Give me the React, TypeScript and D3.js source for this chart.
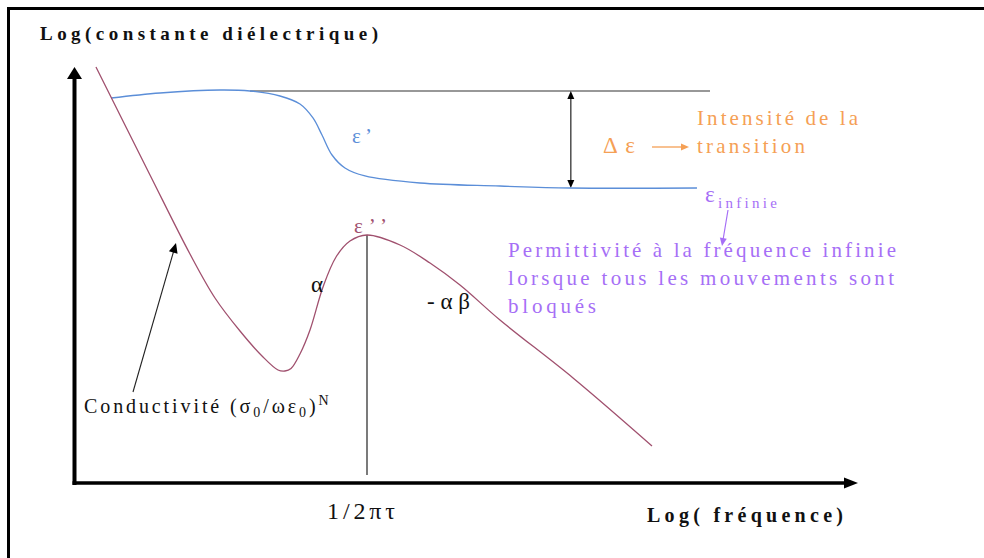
import * as d3 from 'd3';

// x: log(frequency), y: log(dielectric constant), arbitrary units
const epsPrime: [number, number][] = [
  [0.485, 9.236], [1.11, 9.356], [1.875, 9.427], [2.258, 9.403], [2.64, 9.284],
  [2.895, 9.093], [3.061, 8.759], [3.176, 8.353], [3.304, 7.876], [3.469, 7.566],
  [3.724, 7.375], [4.426, 7.208], [5.446, 7.136], [6.339, 7.088], [7.959, 7.088],
];

const epsSecond: [number, number][] = [
  [0.293, 9.976], [0.982, 7.399], [1.492, 5.513], [1.811, 4.463], [2.13, 3.675],
  [2.411, 3.079], [2.615, 2.745], [2.704, 2.721], [2.781, 2.78], [2.895, 3.126],
  [3.023, 3.699], [3.189, 4.726], [3.355, 5.442], [3.533, 5.823], [3.75, 5.967],
  [4.171, 5.728], [4.554, 5.298], [4.936, 4.773], [5.446, 3.938], [6.378, 2.554],
  [7.385, 0.931],
];

const staticLevel = { x0: 2.258, x1: 8.125, y: 9.403 };
const infiniteLevel = 7.088;
const deltaX = 6.35;
const peakX = 3.75;
const peakY = 5.967;

const width = 984;
const height = 558;

const mauve = '#a0506e';
const blue = '#5b8ed8';
const lilac = '#a66ff6';
const orange = '#f5a055';
const ink = '#111';
const serif = '"Liberation Serif", "DejaVu Serif", serif';

function arrowHead(x1: number, y1: number, x2: number, y2: number, len: number, half: number) {
  const a = Math.atan2(y2 - y1, x2 - x1);
  const bx = x2 - len * Math.cos(a);
  const by = y2 - len * Math.sin(a);
  const nx = -Math.sin(a) * half;
  const ny = Math.cos(a) * half;
  return `M${x2},${y2}L${bx + nx},${by + ny}L${bx - nx},${by - ny}Z`;
}

export default function App() {
  const x = d3.scaleLinear().domain([0, 10]).range([73, 857]);
  const y = d3.scaleLinear().domain([0, 10]).range([485, 66]);

  const line = d3
    .line<[number, number]>()
    .x((d) => x(d[0]))
    .y((d) => y(d[1]))
    .curve(d3.curveCatmullRom.alpha(0.5));

  const axisX = 74.5;
  const axisY = 483;

  return (
    <svg
      width={width}
      height={height}
      style={{ position: 'absolute', left: 0, top: 0, background: '#fff' }}
      fontFamily={serif}
    >
      {/* frame */}
      <path d="M8.5,562V8.5H990" fill="none" stroke="#000" strokeWidth={3} />

      {/* axes */}
      <line x1={axisX} y1={axisY + 2} x2={axisX} y2={78} stroke="#000" strokeWidth={4} />
      <path d={arrowHead(axisX, 200, axisX, 67, 12, 7.5)} fill="#000" />
      <line x1={axisX - 2} y1={axisY} x2={845} y2={axisY} stroke="#000" strokeWidth={3.5} />
      <path d={arrowHead(700, axisY, 858, axisY, 14, 5.5)} fill="#000" />

      {/* static level and delta arrow */}
      <line
        x1={x(staticLevel.x0)}
        y1={y(staticLevel.y)}
        x2={x(staticLevel.x1)}
        y2={y(staticLevel.y)}
        stroke="#333"
        strokeWidth={1.2}
      />
      <line
        x1={x(deltaX)}
        y1={y(staticLevel.y) + 6}
        x2={x(deltaX)}
        y2={y(infiniteLevel) - 6}
        stroke="#222"
        strokeWidth={1.2}
      />
      <path d={arrowHead(x(deltaX), 150, x(deltaX), y(staticLevel.y), 8, 3.5)} fill="#000" />
      <path d={arrowHead(x(deltaX), 120, x(deltaX), y(infiniteLevel), 8, 3.5)} fill="#000" />

      {/* peak marker */}
      <line x1={x(peakX)} y1={y(peakY)} x2={x(peakX)} y2={475} stroke="#222" strokeWidth={1.2} />

      {/* curves */}
      <path d={line(epsPrime) ?? ''} fill="none" stroke={blue} strokeWidth={1.3} />
      <path d={line(epsSecond) ?? ''} fill="none" stroke={mauve} strokeWidth={1.3} />

      {/* conductivity pointer */}
      <line x1={133} y1={392} x2={174} y2={250} stroke="#222" strokeWidth={1.1} />
      <path d={arrowHead(133, 392, 176, 243, 10, 4.5)} fill="#000" />

      {/* infinite permittivity pointer */}
      <line x1={728} y1={210} x2={723} y2={240} stroke={lilac} strokeWidth={1.2} />
      <path d={arrowHead(728, 210, 722, 246, 8, 3.5)} fill={lilac} />

      {/* orange arrow */}
      <line x1={652} y1={147} x2={682} y2={147} stroke={orange} strokeWidth={1.3} />
      <path d={arrowHead(652, 147, 689, 147, 8, 3.5)} fill={orange} />

      {/* titles */}
      <text x={40} y={40} fontSize={19} fontWeight="bold" fill={ink} textLength={338} lengthAdjust="spacing">
        Log(constante diélectrique)
      </text>
      <text x={647} y={522} fontSize={20} fontWeight="bold" fill={ink} textLength={196} lengthAdjust="spacing">
        Log( fréquence)
      </text>
      <text x={327} y={519} fontSize={24} fill={ink} textLength={68} lengthAdjust="spacing">
        1/2πτ
      </text>

      {/* curve labels */}
      <text x={352} y={143} fontSize={21} fill={blue} textLength={20} lengthAdjust="spacing">
        ε’
      </text>
      <text x={354} y={233} fontSize={21} fill={mauve} textLength={33} lengthAdjust="spacing">
        ε’’
      </text>
      <text x={311} y={292} fontSize={23} fill={ink}>
        α
      </text>
      <text x={427} y={309} fontSize={23} fill={ink} textLength={43} lengthAdjust="spacing">
        -αβ
      </text>

      {/* delta epsilon annotation */}
      <text x={603} y={153} fontSize={23} fill={orange} textLength={32} lengthAdjust="spacing">
        Δε
      </text>
      <text x={697} y={125} fontSize={21} fill={orange} textLength={161} lengthAdjust="spacing">
        Intensité de la
      </text>
      <text x={697} y={153} fontSize={21} fill={orange} textLength={108} lengthAdjust="spacing">
        transition
      </text>

      {/* epsilon infinite */}
      <text x={705} y={202} fontSize={23} fill={lilac}>
        ε
      </text>
      <text x={718} y={208} fontSize={15} fill={lilac} textLength={59} lengthAdjust="spacing">
        infinie
      </text>
      <text x={508} y={257} fontSize={21} fill={lilac} textLength={388} lengthAdjust="spacing">
        Permittivité à la fréquence infinie
      </text>
      <text x={508} y={285} fontSize={21} fill={lilac} textLength={386} lengthAdjust="spacing">
        lorsque tous les mouvements sont
      </text>
      <text x={508} y={313} fontSize={21} fill={lilac} textLength={88} lengthAdjust="spacing">
        bloqués
      </text>

      {/* conductivity label */}
      <text x={84} y={413} fontSize={20} fill={ink} letterSpacing={2.9}>
        Conductivité (σ
        <tspan fontSize={14} dy={4}>0</tspan>
        <tspan dy={-4}>/ωε</tspan>
        <tspan fontSize={14} dy={4}>0</tspan>
        <tspan dy={-4}>)</tspan>
        <tspan fontSize={14} dy={-8}>N</tspan>
      </text>
    </svg>
  );
}
